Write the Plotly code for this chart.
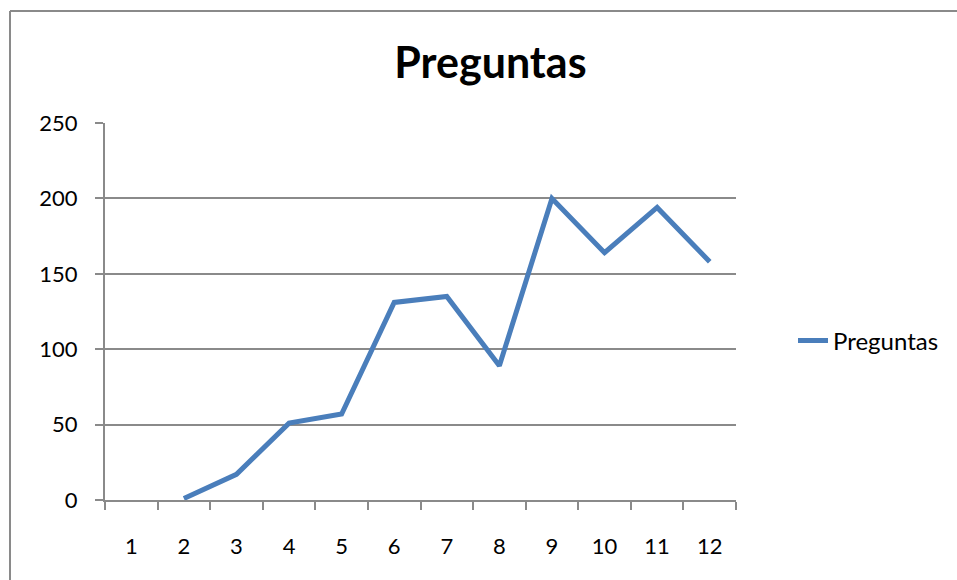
import plotly.graph_objects as go

categories = ["1", "2", "3", "4", "5", "6", "7", "8", "9", "10", "11", "12"]
preguntas = [None, 1, 17, 51, 57, 131, 135, 89, 200, 164, 194, 158]
y_ticks = [0, 50, 100, 150, 200, 250]

FONT = "Lato"
GRID = "#8a8a8a"

fig = go.Figure()
fig.add_trace(go.Scatter(
    x=categories, y=preguntas, mode="lines", name="Preguntas",
    line=dict(color="#4a7ebb", width=5), connectgaps=False,
))

bx0 = -95 / 631
by1 = 1 + 112 / 377

fig.update_layout(
    width=957, height=580,
    margin=dict(l=105, r=221, t=123, b=80),
    paper_bgcolor="white", plot_bgcolor="white",
    title=dict(text="<b>Preguntas</b>", x=0.5125, xanchor="center",
               y=1 - 63/580, yanchor="middle",
               font=dict(family=FONT, size=43, color="black")),
    font=dict(family=FONT, size=22, color="black"),
    showlegend=True,
    legend=dict(x=(793 - 105) / 631, y=(500 - 341) / 377, xanchor="left", yanchor="middle",
                font=dict(family=FONT, size=24, color="black"),
                bgcolor="rgba(0,0,0,0)"),
    xaxis=dict(type="category", categoryorder="array", categoryarray=categories,
               tickson="boundaries", ticks="outside", ticklen=8, tickwidth=2,
               tickcolor=GRID, showline=True, linecolor=GRID, linewidth=2,
               showgrid=False, zeroline=False, fixedrange=True,
               tickfont=dict(family=FONT, size=22), range=[-0.5, 11.5],
               ticklabelstandoff=26),
    yaxis=dict(range=[0, 250], tickvals=y_ticks, ticks="outside", ticklen=8,
               tickwidth=2, tickcolor=GRID, showline=True, linecolor=GRID,
               linewidth=2, showgrid=True, gridcolor=GRID, gridwidth=2,
               zeroline=False, tickfont=dict(family=FONT, size=22),
               ticklabelstandoff=13),
    shapes=[
        dict(type="line", xref="paper", yref="paper", x0=bx0, x1=bx0, y0=-0.5, y1=by1,
             line=dict(color=GRID, width=2), layer="below"),
        dict(type="line", xref="paper", yref="paper", x0=bx0, x1=1.5, y0=by1, y1=by1,
             line=dict(color=GRID, width=2), layer="below"),
    ],
)

fig.write_html("out.html", config={"displayModeBar": False},
               post_script="document.body.style.margin='0';")
